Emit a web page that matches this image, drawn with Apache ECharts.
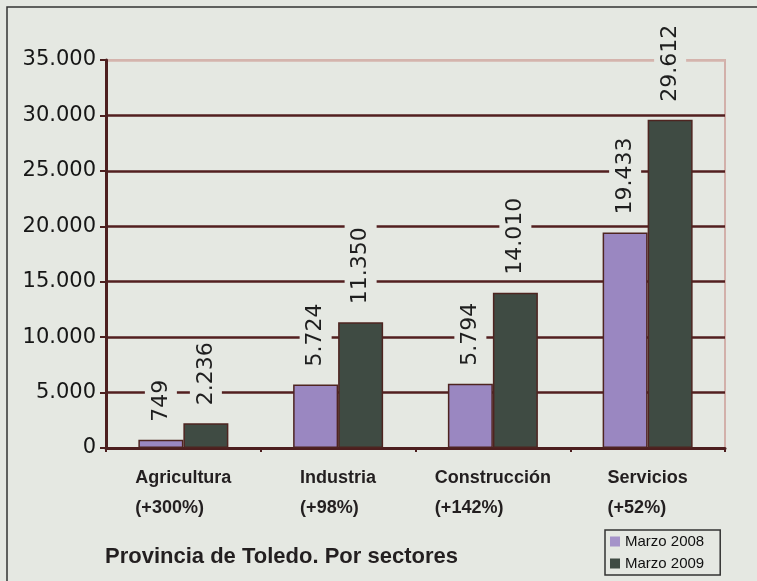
<!DOCTYPE html>
<html>
<head>
<meta charset="utf-8">
<script src="https://cdn.jsdelivr.net/npm/echarts@6/dist/echarts.min.js"></script>
<style>
html,body{margin:0;padding:0;background:#e5e8e2;}
#c{width:757px;height:581px;}
</style>
</head>
<body>
<div id="c"></div>
<script>
var categories = ['Agricultura', 'Industria', 'Construcción', 'Servicios'];
var changes = ['(+300%)', '(+98%)', '(+142%)', '(+52%)'];
var marzo2008 = [749, 5724, 5794, 19433];
var marzo2009 = [2236, 11350, 14010, 29612];
var yTicks = [0, 5000, 10000, 15000, 20000, 25000, 30000, 35000];

var BG = '#e5e8e2';
function fmt(n) { return String(n).replace(/\B(?=(\d{3})+(?!\d))/g, '.'); }

var chart = echarts.init(document.getElementById('c'), null, {renderer: 'canvas'});
var valueLabel = {
  show: true, position: 'top', rotate: 90, align: 'left', verticalAlign: 'middle',
  distance: 15, fontFamily: 'DejaVu Sans', fontSize: 22, color: '#1e1e1e',
  backgroundColor: BG, padding: [5, 3],
  formatter: function (p) { return fmt(p.value); }
};
var barBorder = {borderColor: '#4e2420', borderWidth: 1.5};
var splitColors = yTicks.map(function (v, i) { return i === yTicks.length - 1 ? '#d4b4ad' : '#521f1f'; });

chart.setOption({
  backgroundColor: BG,
  animation: false,
  title: {
    text: 'Provincia de Toledo. Por sectores', left: 100, top: 541,
    textStyle: {fontFamily: 'Liberation Sans', fontWeight: 'bold', fontSize: 22, color: '#231f20'}
  },
  legend: {
    data: [
      {name: 'Marzo 2008', itemStyle: {borderWidth: 0, color: '#a593c9'}},
      {name: 'Marzo 2009', itemStyle: {borderWidth: 0}}
    ],
    orient: 'vertical', left: 605, top: 530,
    itemWidth: 10, itemHeight: 10, itemGap: 7, icon: 'rect',
    textStyle: {fontFamily: 'Liberation Sans', fontSize: 15, color: '#111'},
    borderColor: '#333', borderWidth: 1.5, padding: [4, 16, 4, 5], backgroundColor: BG
  },
  graphic: [{
    type: 'rect', shape: {x: 7, y: 7, width: 800, height: 620},
    style: {fill: 'none', stroke: '#333', lineWidth: 1.5}, silent: true
  }],
  grid: {
    left: 106, right: 32, top: 60, bottom: 133,
    show: true, borderColor: '#d2b0aa', borderWidth: 2, backgroundColor: BG
  },
  xAxis: {
    type: 'category', data: categories,
    axisLine: {lineStyle: {color: '#4d1f1f', width: 3}},
    axisTick: {show: true, length: 4, lineStyle: {color: '#4d1f1f', width: 2}},
    axisLabel: {
      margin: 15, align: 'center', interval: 0,
      formatter: function (v, i) { return '{a|' + v + '}\n{a|' + changes[i] + '}'; },
      rich: {a: {align: 'left', fontFamily: 'Liberation Sans', fontWeight: 'bold', fontSize: 18, lineHeight: 30, color: '#231f20'}}
    }
  },
  yAxis: {
    type: 'value', min: 0, max: 35000, interval: 5000,
    axisLine: {show: true, lineStyle: {color: '#4d1f1f', width: 3}},
    axisTick: {show: true, length: 6, lineStyle: {color: '#4d1f1f', width: 2}},
    axisLabel: {
      margin: 10, fontFamily: 'DejaVu Sans', fontSize: 21, color: '#161616',
      formatter: function (v) { return fmt(v); }
    },
    splitLine: {show: true, lineStyle: {color: splitColors, width: 2.5}}
  },
  series: [
    {name: 'Marzo 2008', type: 'bar', data: marzo2008, barWidth: 45, barGap: '0%',
     itemStyle: Object.assign({color: '#9a87c1'}, barBorder), label: valueLabel},
    {name: 'Marzo 2009', type: 'bar', data: marzo2009, barWidth: 45, barGap: '0%',
     itemStyle: Object.assign({color: '#3f4b43'}, barBorder), label: valueLabel}
  ]
});
</script>
</body>
</html>
